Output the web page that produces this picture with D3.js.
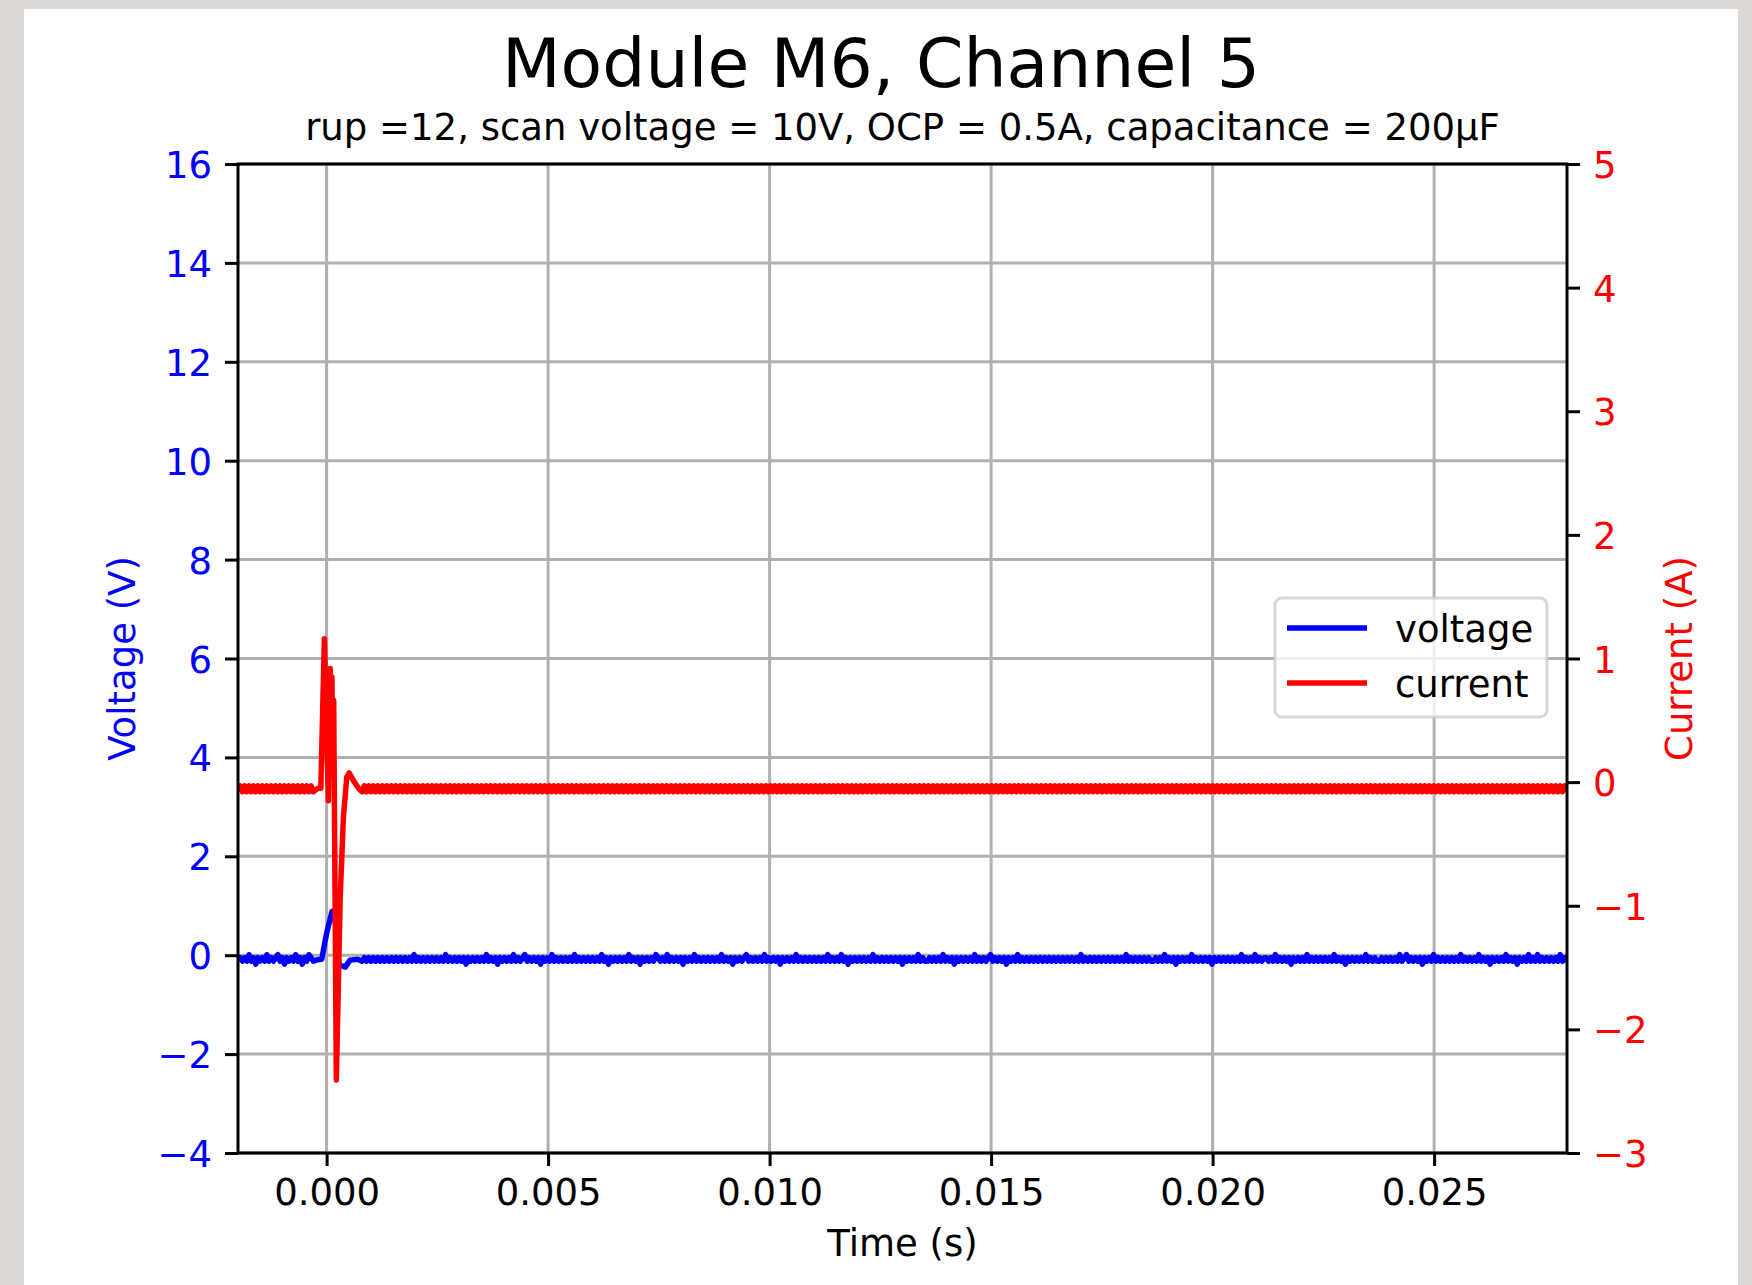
<!DOCTYPE html>
<html>
<head>
<meta charset="utf-8">
<script src="https://cdn.jsdelivr.net/npm/d3@7"></script>
<style>
body { margin: 0; background: #dcd8d4; }
svg { display: block; font-family: "DejaVu Sans", sans-serif; }
</style>
</head>
<body>
<script>
// ---- data ----
var timeTicks = [0, 0.005, 0.010, 0.015, 0.020, 0.025];
var voltTicks = [-4, -2, 0, 2, 4, 6, 8, 10, 12, 14, 16];
var currTicks = [-3, -2, -1, 0, 1, 2, 3, 4, 5];

// switch-on transient around t = 0
var spikeTimeV = [-0.0002, -0.00011, -0.00003, 0, 0.00012, 0.00018, 0.00028, 0.00036, 0.00042, 0.00053, 0.0007];
var spikeVolt  = [-0.09, -0.08, 0.3, 0.44, 0.88, 0.9, -0.2, -0.22, -0.24, -0.1, -0.08];

var spikeTimeI = [-0.0002, -0.00013, -0.00005, 0.00004, 0.00008, 0.0001, 0.00012, 0.00014, 0.00016, 0.00022, 0.000305, 0.00038, 0.000455, 0.00051, 0.0006, 0.00072];
var spikeCurr  = [-0.05, -0.05, 1.16, -0.15, 0.92, 0.2, 0.85, 0.1, 0.66, -2.41, -0.95, -0.28, 0.04, 0.075, 0.016, -0.05];

// flat parts: ADC noise, one letter per sample
var voltLevels = {a: -0.18, b: -0.12, c: -0.05, d: 0.01};
var currLevels = {p: -0.078, q: -0.03};
var spanBefore = [-0.002, -0.0003];
var spanAfter = [0.0008, 0.028];

var voltBefore = "bcbcbdbcacbcbdbcbcdbcacbcbdbcacbdcb";
var voltAfter =
  "bcbcbcbcbcbcbcbcbcbcbcbdbcbcbcbcbcbcbdbcbcbcbcacbc" +
  "bcbcbdbcbcacbcbcbdbcbcdbcbcbcacbcbdbcbcbcbcbdbcbcb" +
  "cbcbcbdbcacbcbcbcbdbcbcacbcbcbdcbcbdbcbcbcacbcbdbc" +
  "bcbcbcbcbdbcbcacbcbcdbcbcbcbdbcbcbcacbcbcbdbcbcbcb" +
  "cbcbcbdbcbcbdbcacbcbcbcbcbdbcbcbcbcbcbcacbcbcbdbcb" +
  "bcbcbcbdbcbcacbcbcbcbdbcbcbcdbcbcbcacbcbdbcbcbcbcb" +
  "cbcbcbcbcbcbcbcbcbdbcbcbcbcbcbcbcbcbcbdbcbcbcbcbcb" +
  "bcbcbdbcbcacbcbcbdbcbcbcbcacbcbcbcbcbcbdbcbcbdbcbc" +
  "cbcbdbcbcbcacbcbcbdbcbcbcbcbcbdbcbcacbcbcbcbdbcbcb" +
  "bcbcbcbcbdbcdbcbcbcacbcbdbcbcbcbcbcbdbcbcbcbdbcbca" +
  "cbcbcbdbcbcacbcbdbcbdbcbcbcbcbdbcb";

var currBefore = "pqpqpqpqpqpqpqpqpqpqpqpqpqpqpqpqpqp";
var currAfter =
  "pqpqpqpqpqpqpqpqpqpqpqpqpqpqpqpqpqpqpqpqpqpqpqpqpq" +
  "pqpqpqpqpqpqpqpqpqpqpqpqpqpqpqpqpqpqpqpqpqpqpqpqpq" +
  "pqpqpqpqpqpqpqpqpqpqpqpqpqpqpqpqpqpqpqpqpqpqpqpqpq" +
  "pqpqpqpqpqpqpqpqpqpqpqpqpqpqpqpqpqpqpqpqpqpqpqpqpq" +
  "pqpqpqpqpqpqpqpqpqpqpqpqpqpqpqpqpqpqpqpqpqpqpqpqpq" +
  "pqpqpqpqpqpqpqpqpqpqpqpqpqpqpqpqpqpqpqpqpqpqpqpqpq" +
  "pqpqpqpqpqpqpqpqpqpqpqpqpqpqpqpqpqpqpqpqpqpqpqpqpq" +
  "pqpqpqpqpqpqpqpqpqpqpqpqpqpqpqpqpqpqpqpqpqpqpqpqpq" +
  "pqpqpqpqpqpqpqpqpqpqpqpqpqpqpqpqpqpqpqpqpqpqpqpqpq" +
  "pqpqpqpqpqpqpqpqpqpqpqpqpqpqpqpqpqpqpqpqpqpqpqpqpq" +
  "pqpqpqpqpqpqpqpqpqpqpqpqpqpqpqpqpqp";

var seriesNames = ["voltage", "current"];

// ---- layout ----
var W = 1752, H = 1285;
var plotLeft = 238, plotRight = 1567, plotTop = 164, plotBottom = 1153;

function noisePoints(code, span, levels) {
  var n = code.length - 1;
  return code.split("").map(function(ch, i) {
    return [span[0] + (span[1] - span[0]) * i / n, levels[ch]];
  });
}

var voltData = noisePoints(voltBefore, spanBefore, voltLevels)
  .concat(spikeTimeV.map(function(t, i) { return [t, spikeVolt[i]]; }))
  .concat(noisePoints(voltAfter, spanAfter, voltLevels));
var currData = noisePoints(currBefore, spanBefore, currLevels)
  .concat(spikeTimeI.map(function(t, i) { return [t, spikeCurr[i]]; }))
  .concat(noisePoints(currAfter, spanAfter, currLevels));

var svg = d3.select("body").append("svg")
    .attr("width", W)
    .attr("height", H);

svg.append("rect")
    .attr("x", 24).attr("y", 9)
    .attr("width", 1738 - 24).attr("height", H - 9)
    .attr("fill", "#ffffff");

var x = d3.scaleLinear().domain([-0.002, 0.028]).range([plotLeft, plotRight]);
var yV = d3.scaleLinear().domain([-4, 16]).range([plotBottom, plotTop]);
var yI = d3.scaleLinear().domain([-3, 5]).range([plotBottom, plotTop]);

// grid
var grid = svg.append("g");
grid.selectAll(".gx").data(timeTicks).enter().append("line")
    .attr("x1", d => x(d)).attr("x2", d => x(d))
    .attr("y1", plotTop).attr("y2", plotBottom)
    .style("stroke", "#b0b0b0").style("stroke-width", 3);
grid.selectAll(".gy").data(voltTicks).enter().append("line")
    .attr("x1", plotLeft).attr("x2", plotRight)
    .attr("y1", d => yV(d)).attr("y2", d => yV(d))
    .style("stroke", "#b0b0b0").style("stroke-width", 3);

svg.append("clipPath").attr("id", "plot")
  .append("rect")
    .attr("x", plotLeft).attr("y", plotTop)
    .attr("width", plotRight - plotLeft).attr("height", plotBottom - plotTop);

var lineV = d3.line().x(d => x(d[0])).y(d => yV(d[1]));
var lineI = d3.line().x(d => x(d[0])).y(d => yI(d[1]));

svg.append("path")
    .attr("clip-path", "url(#plot)")
    .attr("d", lineV(voltData))
    .style("fill", "none")
    .style("stroke", "#0000ff")
    .style("stroke-width", 5.5)
    .style("stroke-linejoin", "round");

svg.append("path")
    .attr("clip-path", "url(#plot)")
    .attr("d", lineI(currData))
    .style("fill", "none")
    .style("stroke", "#ff0000")
    .style("stroke-width", 5.5)
    .style("stroke-linejoin", "round");

// axes
function styleAxis(g, color) {
  g.select(".domain").remove();
  g.selectAll(".tick line").style("stroke", "#000").style("stroke-width", 3);
  g.selectAll(".tick text")
      .attr("fill", color)
      .style("font-size", "37px")
      .style("font-family", "DejaVu Sans, sans-serif");
}

svg.append("g")
    .attr("transform", "translate(0," + plotBottom + ")")
    .call(d3.axisBottom(x).tickValues(timeTicks).tickSize(13).tickPadding(13)
      .tickFormat(d3.format(".3f")))
    .call(styleAxis, "#000");

svg.append("g")
    .attr("transform", "translate(" + plotLeft + ",0)")
    .call(d3.axisLeft(yV).tickValues(voltTicks).tickSize(13).tickPadding(13)
      .tickFormat(d3.format("d")))
    .call(styleAxis, "#0000ff")
    .selectAll(".tick text").attr("dy", "0.365em");

svg.append("g")
    .attr("transform", "translate(" + plotRight + ",0)")
    .call(d3.axisRight(yI).tickValues(currTicks).tickSize(13).tickPadding(13)
      .tickFormat(d3.format("d")))
    .call(styleAxis, "#ff0000")
    .selectAll(".tick text").attr("dy", "0.365em");

svg.append("rect")
    .attr("x", plotLeft).attr("y", plotTop)
    .attr("width", plotRight - plotLeft).attr("height", plotBottom - plotTop)
    .style("fill", "none").style("stroke", "#000").style("stroke-width", 3);

// legend
var legend = svg.append("g");
legend.append("rect")
    .attr("x", 1275).attr("y", 598)
    .attr("width", 272).attr("height", 119)
    .attr("rx", 7)
    .style("fill", "rgba(255,255,255,0.8)")
    .style("stroke", "rgba(204,204,204,0.8)")
    .style("stroke-width", 3);
var legendColors = ["#0000ff", "#ff0000"];
seriesNames.forEach(function(name, i) {
  var ly = 628 + i * 55;
  legend.append("line")
      .attr("x1", 1287).attr("x2", 1367)
      .attr("y1", ly).attr("y2", ly)
      .style("stroke", legendColors[i]).style("stroke-width", 5.5);
  legend.append("text")
      .attr("x", 1395).attr("y", ly + 13.5)
      .style("font-size", "37px")
      .text(name);
});

// titles and labels
svg.append("text")
    .attr("x", 881).attr("y", 87)
    .attr("text-anchor", "middle")
    .style("font-size", "68px")
    .text("Module M6, Channel 5");

svg.append("text")
    .attr("x", (plotLeft + plotRight) / 2).attr("y", 140)
    .attr("text-anchor", "middle")
    .style("font-size", "37px")
    .text("rup =12, scan voltage = 10V, OCP = 0.5A, capacitance = 200µF");

svg.append("text")
    .attr("x", (plotLeft + plotRight) / 2).attr("y", 1256)
    .attr("text-anchor", "middle")
    .style("font-size", "37px")
    .text("Time (s)");

svg.append("text")
    .attr("transform", "translate(121," + (plotTop + plotBottom) / 2 + ") rotate(-90)")
    .attr("text-anchor", "middle")
    .attr("dy", "0.365em")
    .attr("fill", "#0000ff")
    .style("font-size", "37px")
    .text("Voltage (V)");

svg.append("text")
    .attr("transform", "translate(1678," + (plotTop + plotBottom) / 2 + ") rotate(-90)")
    .attr("text-anchor", "middle")
    .attr("dy", "0.365em")
    .attr("fill", "#ff0000")
    .style("font-size", "37px")
    .text("Current (A)");
</script>
</body>
</html>
